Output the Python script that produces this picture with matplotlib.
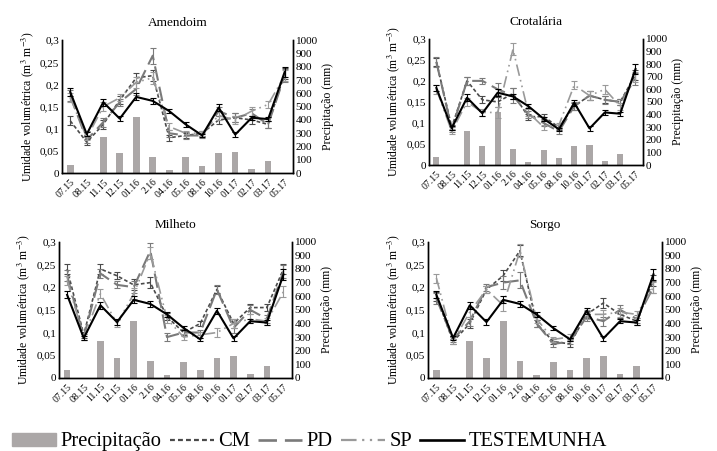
import matplotlib
matplotlib.use("Agg")
import numpy as np
from matplotlib import pyplot as plt
from matplotlib.patches import Patch
from matplotlib.lines import Line2D

plt.rcParams["font.family"] = ["Liberation Serif", "DejaVu Serif"]
plt.rcParams["mathtext.fontset"] = "stix"

# data
months = ["07.15", "08.15", "11.15", "12.15", "01.16", "2.16", "04.16",
          "05.16", "08.16", "10.16", "01.17", "02.17", "03.17", "05.17"]
precip = [60, 3, 270, 148, 420, 125, 22, 120, 57, 148, 160, 30, 90, 3]

testemunha = [0.183, 0.088, 0.160, 0.123, 0.172, 0.163, 0.140,
              0.110, 0.085, 0.148, 0.087, 0.125, 0.122, 0.228]

amendoim_cm = [0.118, 0.070, 0.110, 0.165, 0.215, 0.220, 0.080,
               0.085, 0.090, 0.120, 0.125, 0.120, 0.110, 0.225]
amendoim_pd = [0.175, 0.075, 0.115, 0.160, 0.190, 0.265, 0.090,
               0.085, 0.085, 0.140, 0.125, 0.135, 0.110, 0.220]
amendoim_sp = [0.170, 0.080, 0.150, 0.170, 0.205, 0.215, 0.105,
               0.090, 0.090, 0.130, 0.120, 0.140, 0.155, 0.220]

crotalaria_cm = [0.245, 0.090, 0.200, 0.155, 0.150, 0.170, 0.115,
                 0.115, 0.090, 0.140, 0.165, 0.155, 0.150, 0.215]
crotalaria_pd = [0.245, 0.085, 0.200, 0.200, 0.180, 0.165, 0.120,
                 0.100, 0.080, 0.140, 0.165, 0.155, 0.150, 0.205]
crotalaria_sp = [0.180, 0.080, 0.150, 0.125, 0.125, 0.275, 0.125,
                 0.090, 0.095, 0.190, 0.165, 0.180, 0.140, 0.210]

milheto_cm = [0.240, 0.095, 0.240, 0.225, 0.205, 0.210, 0.135,
              0.100, 0.120, 0.195, 0.120, 0.155, 0.155, 0.240]
milheto_pd = [0.225, 0.090, 0.230, 0.205, 0.200, 0.280, 0.090,
              0.100, 0.100, 0.195, 0.110, 0.150, 0.130, 0.235]
milheto_sp = [0.215, 0.090, 0.185, 0.120, 0.185, 0.275, 0.130,
              0.090, 0.095, 0.100, 0.120, 0.130, 0.125, 0.190]

sorgo_cm = [0.180, 0.080, 0.120, 0.195, 0.225, 0.280, 0.120,
            0.080, 0.075, 0.140, 0.165, 0.140, 0.125, 0.215]
sorgo_pd = [0.175, 0.085, 0.125, 0.200, 0.210, 0.215, 0.120,
            0.075, 0.080, 0.135, 0.125, 0.150, 0.130, 0.200]
sorgo_sp = [0.220, 0.080, 0.145, 0.195, 0.160, 0.280, 0.130,
            0.085, 0.090, 0.140, 0.140, 0.145, 0.140, 0.200]

err_cm = [0.010, 0.006, 0.010, 0.008, 0.012, 0.012, 0.007,
          0.006, 0.006, 0.008, 0.010, 0.008, 0.008, 0.012]
err_pd = [0.012, 0.006, 0.010, 0.008, 0.014, 0.018, 0.008,
          0.007, 0.006, 0.010, 0.010, 0.010, 0.008, 0.014]
err_sp = [0.010, 0.006, 0.010, 0.008, 0.012, 0.014, 0.008,
          0.006, 0.006, 0.010, 0.010, 0.010, 0.008, 0.012]
err_test = [0.008, 0.005, 0.008, 0.006, 0.008, 0.006, 0.005,
            0.005, 0.004, 0.007, 0.005, 0.005, 0.005, 0.012]

panels = [
    ("Amendoim", amendoim_cm, amendoim_pd, amendoim_sp, [0.0865, 0.616, 0.322, 0.295]),
    ("Crotalária", crotalaria_cm, crotalaria_pd, crotalaria_sp, [0.598, 0.634, 0.299, 0.280]),
    ("Milheto", milheto_cm, milheto_pd, milheto_sp, [0.082, 0.162, 0.325, 0.302]),
    ("Sorgo", sorgo_cm, sorgo_pd, sorgo_sp, [0.597, 0.162, 0.326, 0.302]),
]

BAR_COLOR = "#aba7a7"
styles = {
    "CM": dict(color="#4a4a4a", dashes=(2.2, 1.4), lw=1.2),
    "PD": dict(color="#7a7a7a", dashes=(7, 3), lw=1.5),
    "SP": dict(color="#9a9a9a", dashes=(7, 2.5, 1, 2.5, 1, 2.5), lw=1.2),
    "TESTEMUNHA": dict(color="black", lw=1.5),
}

fig = plt.figure(figsize=(7.17, 4.51), dpi=100)
x = np.arange(len(months))

for title, cm, pd_, sp, rect in panels:
    ax = fig.add_axes(rect)
    ax2 = ax.twinx()
    ax2.bar(x, precip, width=0.4, color=BAR_COLOR, zorder=1)
    ax2.set_ylim(0, 1000)
    ax2.set_yticks(range(0, 1001, 100))
    ax2.set_ylabel("Precipitação (mm)", fontsize=8.5, labelpad=3)

    # lines above the bars
    ax.set_zorder(ax2.get_zorder() + 1)
    ax.patch.set_visible(False)

    for name, vals, err in [("CM", cm, err_cm), ("PD", pd_, err_pd),
                            ("SP", sp, err_sp), ("TESTEMUNHA", testemunha, err_test)]:
        st = styles[name]
        ax.errorbar(x, vals, yerr=err, fmt="none", ecolor=st["color"],
                    elinewidth=0.8, capsize=2, capthick=0.8)
        line, = ax.plot(x, vals, color=st["color"], lw=st["lw"])
        if "dashes" in st:
            line.set_dashes(st["dashes"])

    ax.set_xlim(-0.5, len(months) - 0.5)
    ax.set_ylim(0, 0.3)
    ax.set_yticks([0, 0.05, 0.1, 0.15, 0.2, 0.25, 0.3])
    ax.set_yticklabels(["0", "0,05", "0,1", "0,15", "0,2", "0,25", "0,3"])
    ax.set_xticks(x)
    ax.set_xticklabels(months, rotation=45, ha="right", rotation_mode="anchor")
    ax.set_ylabel("Umidade volumétrica (m$^3$ m$^{-3}$)", fontsize=8.5, labelpad=3)
    ax.set_title(title, fontsize=9.5, pad=10)

    for a in (ax, ax2):
        a.tick_params(length=0, labelsize=8, pad=2)
        a.spines["top"].set_visible(False)
        for s in ("left", "right", "bottom"):
            a.spines[s].set_linewidth(1.0)
            a.spines[s].set_color("black")
    ax.tick_params(axis="x", labelsize=7, pad=3)

handles = [Patch(color=BAR_COLOR)]
labels = ["Precipitação"]
for name in ["CM", "PD", "SP", "TESTEMUNHA"]:
    st = styles[name]
    h = Line2D([], [], color=st["color"], lw=st["lw"] + 0.4)
    if "dashes" in st:
        h.set_dashes(st["dashes"])
    handles.append(h)
    labels.append(name)

fig.legend(handles, labels, loc="center left", bbox_to_anchor=(0.017, 0.02),
           ncol=5, frameon=False, fontsize=14.8, handlelength=2.15,
           handleheight=0.6, handletextpad=0.2, columnspacing=0.4,
           borderpad=0, borderaxespad=0)

fig.savefig("out.png", dpi=100)
